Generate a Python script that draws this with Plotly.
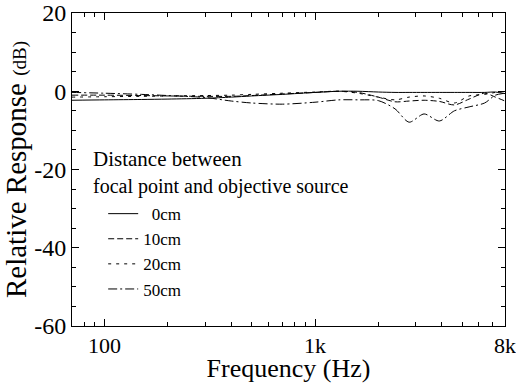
import plotly.graph_objects as go

freq_hz = [70, 100, 150, 200, 300, 400, 500, 700, 1000, 1300, 1600, 2000,
           2400, 2800, 3300, 3900, 4600, 5400, 6400, 7200, 8000]

resp_0cm = [-2.3, -2.2, -2.1, -2.0, -1.8, -1.5, -1.2, -0.8, -0.3, 0.0, 0.0, -0.2,
            -0.3, -0.3, -0.3, -0.3, -0.3, -0.3, -0.3, -0.2, -0.6]
resp_10cm = [-1.0, -1.0, -1.1, -1.2, -1.3, -1.3, -1.1, -0.7, -0.3, 0.0, -0.3, -1.5,
             -2.7, -2.5, -2.3, -2.6, -3.5, -2.0, -0.5, -1.5, -2.5]
resp_20cm = [-1.5, -1.4, -1.3, -1.2, -1.1, -1.0, -0.8, -0.5, -0.2, 0.0, -0.5, -1.5,
             -2.2, -1.5, -1.2, -1.8, -3.0, -1.2, -0.8, -0.3, 0.0]
resp_50cm = [-0.3, -0.5, -0.8, -1.1, -1.6, -2.5, -3.0, -3.3, -2.8, -2.2, -2.2, -2.4,
             -4.5, -7.9, -5.8, -7.6, -5.0, -4.0, -3.0, -1.0, -0.5]

series_names = ["\u00a0\u00a00cm", "10cm", "20cm", "50cm"]
series_values = [resp_0cm, resp_10cm, resp_20cm, resp_50cm]
series_dash = ["solid", "6px,3px", "3px,5px", "9px,3px,2px,3px"]

x_tick_vals = [100, 1000, 8000]
x_tick_text = ["100", "1k", "8k"]
x_minor_vals = [80, 90, 200, 300, 400, 500, 600, 700, 800, 900,
                2000, 3000, 4000, 5000, 6000, 7000]
y_tick_vals = [-60, -40, -20, 0, 20]
y_tick_text = ["-60", "-40", "-20", "0", "20"]

FONT = "serif"

fig = go.Figure()
for name, vals, dash in zip(series_names, series_values, series_dash):
    fig.add_trace(go.Scatter(
        x=freq_hz, y=vals, mode="lines", name=name,
        line=dict(color="black", width=1, dash=dash, shape="spline", smoothing=0.8),
    ))

fig.update_layout(
    width=516, height=383,
    margin=dict(l=72, r=11, t=13, b=57, autoexpand=False),
    paper_bgcolor="white", plot_bgcolor="white",
    font=dict(family=FONT, color="black", size=22),
    showlegend=True,
    legend=dict(
        x=0.072, y=0.415, xanchor="left", yanchor="top",
        font=dict(family=FONT, size=17, color="black"),
        bgcolor="rgba(0,0,0,0)", tracegroupgap=0,
        itemwidth=30,
    ),
    annotations=[
        dict(text="Distance between", xref="paper", yref="paper",
             x=0.045, y=0.535, xanchor="left", yanchor="middle", showarrow=False,
             font=dict(family=FONT, size=21, color="black")),
        dict(text="focal point and objective source", xref="paper", yref="paper",
             x=0.045, y=0.445, xanchor="left", yanchor="middle", showarrow=False,
             font=dict(family=FONT, size=20, color="black")),
    ],
)

fig.update_xaxes(
    type="log", range=[1.845, 3.903], automargin=False,
    tickvals=x_tick_vals, ticktext=x_tick_text, ticklabeloverflow="allow",
    ticks="inside", ticklen=7, tickcolor="black",
    showline=True, linecolor="black", linewidth=1, mirror="allticks",
    showgrid=False, zeroline=False,
    tickfont=dict(family=FONT, size=22),
    minor=dict(tickvals=x_minor_vals, ticks="inside", ticklen=4, tickcolor="black",
               showgrid=False),
    title=dict(text="Frequency (Hz)", font=dict(family=FONT, size=26), standoff=3),
)
fig.update_yaxes(
    range=[-60, 20], tickvals=y_tick_vals, ticktext=y_tick_text,
    automargin=False, ticklabeloverflow="allow",
    ticks="inside", ticklen=7, tickcolor="black",
    showline=True, linecolor="black", linewidth=1, mirror="allticks",
    showgrid=False, zeroline=False,
    tickfont=dict(family=FONT, size=24),
    minor=dict(dtick=5, ticks="inside", ticklen=4, tickcolor="black", showgrid=False),
    title=dict(text="Relative Response <span style='font-size:19px'>(dB)</span>",
               font=dict(family=FONT, size=29), standoff=2),
)

fig.write_html("out.html", config={"displayModeBar": False},
               post_script="document.body.style.margin='0';")
